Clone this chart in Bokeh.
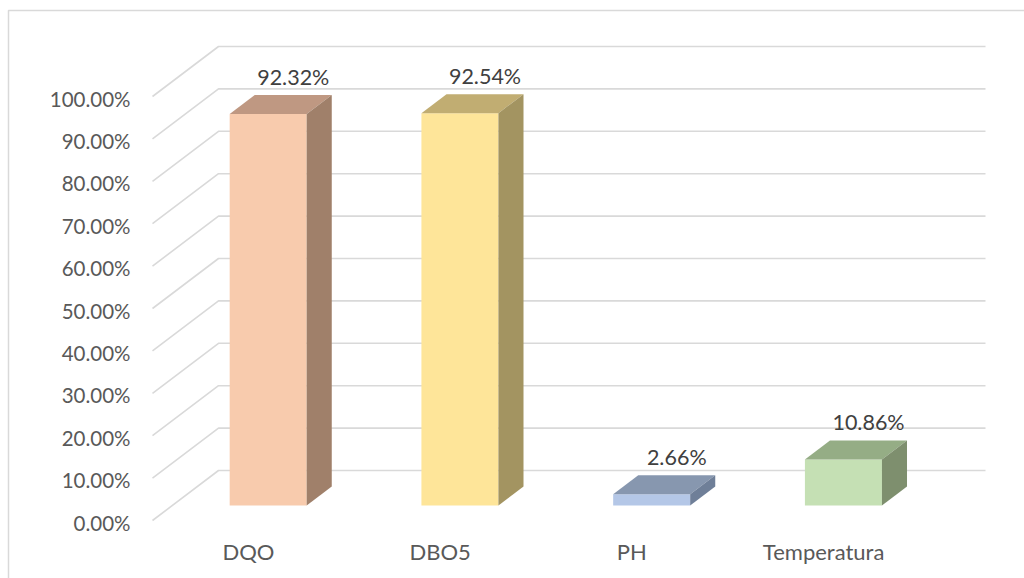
from bokeh.plotting import figure
from bokeh.models import Range1d
from bokeh.core.properties import value
from bokeh.embed import file_html
from bokeh.resources import INLINE

# --- data -----------------------------------------------------------------
categories = ["DQO", "DBO5", "PH", "Temperatura"]
percentages = [92.32, 92.54, 2.66, 10.86]
value_labels = ["92.32%", "92.54%", "2.66%", "10.86%"]
tick_values = [0, 10, 20, 30, 40, 50, 60, 70, 80, 90, 100]
tick_labels = ["0.00%", "10.00%", "20.00%", "30.00%", "40.00%", "50.00%",
               "60.00%", "70.00%", "80.00%", "90.00%", "100.00%"]
front_colors = ["#F8CBAD", "#FEE599", "#B4C7E7", "#C5E0B4"]
top_colors = ["#BF9882", "#C1AD72", "#8797AF", "#95AD85"]
side_colors = ["#A0806A", "#A39461", "#6F7F98", "#7E8F6E"]

# --- geometry of the oblique 3-D view ---------------------------------------
W, H = 1024, 578
PX_PER_CAT = 191.75          # pixels per category on the front plane
PX_PER_PCT = 4.24            # pixels per percentage point
ORIGIN_X, ORIGIN_Y = 152, 520  # pixel position of (0 category, 0 %) front
DX = 66 / PX_PER_CAT         # depth shift (category units) for full depth
DY = 50 / PX_PER_PCT         # depth shift (percent units) for full depth
BAR_HALF = 0.2008
D_FRONT, D_BACK = 0.30, 0.68


def proj(x, v, d):
    return x + d * DX, v + d * DY


def px_x(px):
    return (px - ORIGIN_X) / PX_PER_CAT


def px_y(py):
    return (ORIGIN_Y - py) / PX_PER_PCT


p = figure(width=W, height=H, output_backend="svg", toolbar_location=None,
           x_range=Range1d(px_x(0), px_x(W)), y_range=Range1d(px_y(H), px_y(0)),
           min_border=0, outline_line_color=None)
p.axis.visible = False
p.grid.visible = False
p.background_fill_color = "white"
p.border_fill_color = "white"

GRID = "#D9D9D9"

# chart area border (left and top edges)
p.line([px_x(8), px_x(8), px_x(W + 10)], [px_y(H + 10), px_y(10), px_y(10)],
       line_color=GRID, line_width=1.5)

# walls: diagonal floor/side lines plus back-wall gridlines
n_cat = len(categories)
for t in tick_values:
    x0, y0 = proj(0, t, 0)
    x1, y1 = proj(0, t, 1)
    x2, y2 = proj(n_cat, t, 1)
    p.line([x0, x1, x2], [y0, y1, y2], line_color=GRID, line_width=1.6)

# bars
for i, v in enumerate(percentages):
    cx = i + 0.5
    l, r = cx - BAR_HALF, cx + BAR_HALF
    fl = proj(l, 0, D_FRONT); fr = proj(r, v, D_FRONT)
    p.quad(left=fl[0], right=fr[0], bottom=fl[1], top=fr[1],
           fill_color=front_colors[i], line_color=None)
    top = [proj(l, v, D_FRONT), proj(r, v, D_FRONT), proj(r, v, D_BACK), proj(l, v, D_BACK)]
    p.patch([q[0] for q in top], [q[1] for q in top],
            fill_color=top_colors[i], line_color=None)
    side = [proj(r, 0, D_FRONT), proj(r, v, D_FRONT), proj(r, v, D_BACK), proj(r, 0, D_BACK)]
    p.patch([q[0] for q in side], [q[1] for q in side],
            fill_color=side_colors[i], line_color=None)

FONT = value("Lato")

# value labels above each bar
lx, ly = [], []
for i, v in enumerate(percentages):
    x, y = proj(i + 0.5, v, D_BACK)
    lx.append(x)
    ly.append(y + 18 / PX_PER_PCT)
p.text(lx, ly, text=value_labels, text_font=FONT, text_font_size="21.5px",
       text_color="#404040", text_align="center", text_baseline="middle")

# category labels
cat_x = [i + 0.5 for i in range(n_cat)]
cat_y = [-31 / PX_PER_PCT] * n_cat
p.text(cat_x, cat_y, text=categories, text_font=FONT, text_font_size="22px",
       text_color="#595959", text_align="center", text_baseline="middle")

# percentage axis labels on the front plane
tx = [-22 / PX_PER_CAT] * len(tick_values)
ty = [t - 2 / PX_PER_PCT for t in tick_values]
p.text(tx, ty, text=tick_labels, text_font=FONT, text_font_size="20.5px",
       text_color="#595959", text_align="right", text_baseline="middle")

open("out.html", "w").write(file_html(p, INLINE))
